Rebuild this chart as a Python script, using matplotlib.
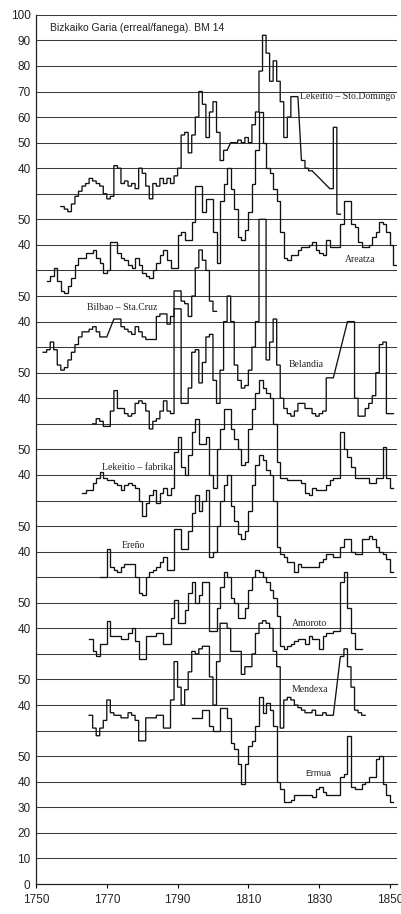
import matplotlib
matplotlib.use("Agg")
import matplotlib.pyplot as plt

# each series: first year + yearly prices (erreal/fanega), None = no data
sto_domingo_start = 1757
sto_domingo = [25, 24, 23, 26, 29, 31, 33, 34, 36, 35,
               34, 33, 30, 28, 29, 41, 40, 34, 35, 33,
               34, 32, 40, 38, 33, 28, 34, 33, 36, 34,
               36, 34, 37, 40, 53, 54, 46, 53, 60, 70,
               65, 52, 62, 66, 54, 43, 47, None, 50, 50,
               51, 50, 52, 50, 57, 62, 78, 92, 85, 74,
               82, 74, 66, 52, 60, 68, 68, None, 43, 40,
               39, None, None, None, None, None, 32, 56, 22]

areatza_start = 1753
areatza = [26, 28, 31, 26, 22, 21, 24, 27, 32, 35,
           35, 37, 37, 38, 35, 33, 29, 30, 41, 41,
           37, 35, 34, 32, 31, 35, 32, 29, 28, 27,
           30, 33, 36, 38, 34, 31, 31, 44, 45, 42,
           42, 49, 63, 63, 53, 58, 58, 45, 33, 57,
           64, 70, 62, 54, 43, 42, 46, 53, 64, 77,
           92, 80, 70, 68, 62, 57, 45, 35, 34, 36,
           36, 38, 39, 39, 40, 41, 38, 37, 36, 42,
           39, 39, 39, 48, 57, 57, 48, 47, 41, 39,
           39, 40, 43, 45, 49, 48, 45, 40, 32]

bilbao_start = 1752
bilbao = [28, 29, 32, 29, 23, 21, 22, 25, 28, 31,
          34, 36, 36, 37, 38, 36, 34, 34, None, None,
          41, 41, 38, 37, 36, 35, 38, 36, 34, 33,
          33, 33, 42, 43, 43, 39, 42, 52, 52, 48,
          47, 42, 50, 61, 68, 64, 60, 48, 44]

belandia_start = 1766
belandia = [30, 32, 31, 29, 29, 35, 43, 36, 36, 34,
            33, 34, 38, 39, 38, 35, 28, 31, 32, 35,
            39, 35, 34, 75, 75, 38, 38, 44, 58, 59,
            46, 54, 64, 65, 47, 38, 51, 70, 80, 70,
            53, 47, 44, 45, 51, 60, 70, 110, 110, 55,
            62, 71, 53, 40, 36, 34, 33, 35, 38, 38,
            36, 36, 34, 33, 34, 35, 48, 48, None, None,
            None, None, 70, 70, 40, 33, 33, 36, 38, 41,
            50, 61, 62, 34, 34]

fabrika_start = 1763
fabrika = [33, 34, 34, 37, 39, 41, 39, 38, 38, 37,
           36, 34, 36, 37, 36, 35, 30, 24, 29, 32,
           34, 29, 33, 35, 32, 35, 49, 55, 43, 40,
           48, 57, 62, 52, 52, 55, 40, 35, 50, 58,
           66, 66, 58, 54, 50, 44, 45, 58, 66, 72,
           77, 74, 72, 70, 60, 45, 39, 39, 38, 38,
           38, 38, 37, 33, 32, 35, 34, 34, 34, 36,
           38, 39, 39, 57, 50, 47, 43, 39, 39, 39,
           39, 37, 37, 39, 39, 51, 39, 35]

ereno_start = 1768
ereno = [30, 30, 41, 34, 33, 32, 34, 35, 35, 35,
         30, 24, 23, 30, 32, 33, 34, 36, 38, 33,
         33, 49, 49, 41, 41, 48, 55, 62, 56, 60,
         64, 38, 40, 50, 60, 66, 70, 58, 52, 47,
         45, 48, 56, 66, 74, 78, 76, 72, 70, 60,
         42, 39, 38, 36, 36, 32, 35, 34, 34, 34,
         34, 34, 36, 37, 39, 39, 38, 38, 42, 45,
         45, 40, 39, 39, 45, 45, 46, 45, 42, 40,
         39, 37, 32]

amoroto_start = 1765
amoroto = [36, 31, 29, 34, 34, 43, 37, 37, 37, 36,
           36, 38, 40, 35, 28, 28, 37, 37, 37, 38,
           38, 34, 34, 44, 51, 42, 42, 47, 54, 58,
           50, 53, 58, 58, 39, 39, 48, 56, 62, 60,
           52, 50, 44, 44, 48, 55, 60, 63, 62, 60,
           58, 55, 52, 45, 33, 32, 33, 34, 35, 36,
           36, 34, 37, 36, 36, 32, 37, 38, 38, 39,
           39, 58, 62, 48, 38, 32, 32]

mendexa_start = 1765
mendexa = [36, 31, 28, 31, 34, 42, 37, 36, 36, 35,
           35, 37, 36, 34, 26, 26, 35, 35, 35, 36,
           36, 31, 31, 42, 57, 47, 40, 46, 53, 61,
           60, 62, 63, 63, 51, 40, 57, 72, 72, 70,
           61, 61, 61, 52, 55, 55, 60, 68, 72, 73,
           72, 70, 61, 55, 31, 42, 43, 42, 40, 39,
           38, 37, 37, 38, 36, 36, 37, 36, 36, None,
           None, 59, 62, 55, 47, 38, 37, 36]

ermua_start = 1794
ermua = [65, 65, 65, 68, 68, 62, 60, 60, 69, 69,
         65, 55, 53, 47, 39, 47, 54, 56, 62, 73,
         67, 71, 68, 62, 40, 37, 32, 32, 33, 35,
         35, 35, 35, 35, 34, 37, 38, 36, 35, 35,
         35, 35, 42, 43, 58, 38, 37, 37, 39, 40,
         42, 42, 49, 50, 39, 35, 32]

series_names = ["Lekeitio – Sto.Domingo", "Areatza", "Bilbao – Sta.Cruz", "Belandia",
                "Lekeitio – fabrika", "Ereño", "Amoroto", "Mendexa", "Ermua"]
series_starts = [sto_domingo_start, areatza_start, bilbao_start, belandia_start,
                 fabrika_start, ereno_start, amoroto_start, mendexa_start, ermua_start]
series_values = [sto_domingo, areatza, bilbao, belandia, fabrika, ereno,
                 amoroto, mendexa, ermua]
offsets = [240, 210, 180, 150, 120, 90, 60, 30, 0]

x_ticks = [1750, 1770, 1790, 1810, 1830, 1850]


def step_xy(start, vals, off):
    # one flat step per year, missing years bridged by a straight line
    xs, ys = [], []
    for i, v in enumerate(vals):
        if v is None:
            continue
        xs += [start + i, start + i + 1]
        ys += [v + off, v + off]
    return xs, ys


fig = plt.figure(figsize=(4.02, 9.14), dpi=100)
ax = fig.add_axes([0.0896, 0.0328, 0.898, 0.951])

for start, vals, off in zip(series_starts, series_values, offsets):
    xs, ys = step_xy(start, vals, off)
    ax.plot(xs, ys, color="#111111", lw=0.95, solid_joinstyle="miter")

ax.set_xlim(1750, 1852)
ax.set_ylim(0, 340)

# gridlines every 10 on the stacked scale
for g in range(10, 341, 10):
    ax.axhline(g, color="#3a3a3a", lw=0.75, zorder=0)

# tick labels: real scale at top and bottom, 50/40 for the middle panels
ytick_pos, ytick_lab = [], []
for v in [100, 90, 80, 70, 60, 50, 40]:
    ytick_pos.append(v + 240)
    ytick_lab.append(str(v))
for off in offsets[1:-1]:
    ytick_pos += [50 + off, 40 + off]
    ytick_lab += ["50", "40"]
for v in [50, 40, 30, 20, 10, 0]:
    ytick_pos.append(v)
    ytick_lab.append(str(v))

ax.set_yticks(ytick_pos)
ax.set_yticklabels(ytick_lab, fontsize=8.5, family="Liberation Sans", color="#222222")
ax.set_xticks(x_ticks)
ax.set_xticklabels([str(t) for t in x_ticks], fontsize=8.5, family="Liberation Sans",
                   color="#222222")
ax.tick_params(axis="y", length=0, pad=4)
ax.tick_params(axis="x", length=3, width=0.8, direction="out", pad=4)

for s in ["top", "right"]:
    ax.spines[s].set_visible(False)
ax.spines["left"].set_color("#222222")
ax.spines["bottom"].set_color("#222222")
ax.spines["left"].set_linewidth(0.9)
ax.spines["bottom"].set_linewidth(0.9)

ax.text(1754.0, 334.9, "Bizkaiko Garia (erreal/fanega). BM 14", fontsize=7.5,
        family="Liberation Sans", va="center", ha="left", color="#222222")

label_pos = [(1824.6, 307.9), (1837.3, 244.1), (1764.4, 225.4), (1821.5, 203.1),
             (1768.6, 163.1), (1774.3, 132.6), (1822.3, 102.1), (1822.3, 75.9),
             (1826.0, 43.4)]
for name, (lx, ly) in zip(series_names, label_pos):
    fam = "Liberation Sans" if name == "Ermua" else "Liberation Serif"
    fs = 6.3 if name == "Ermua" else 7
    ax.text(lx, ly, name, fontsize=fs, family=fam, va="center", ha="left",
            color="#222222")

fig.savefig("out.png", dpi=100)
